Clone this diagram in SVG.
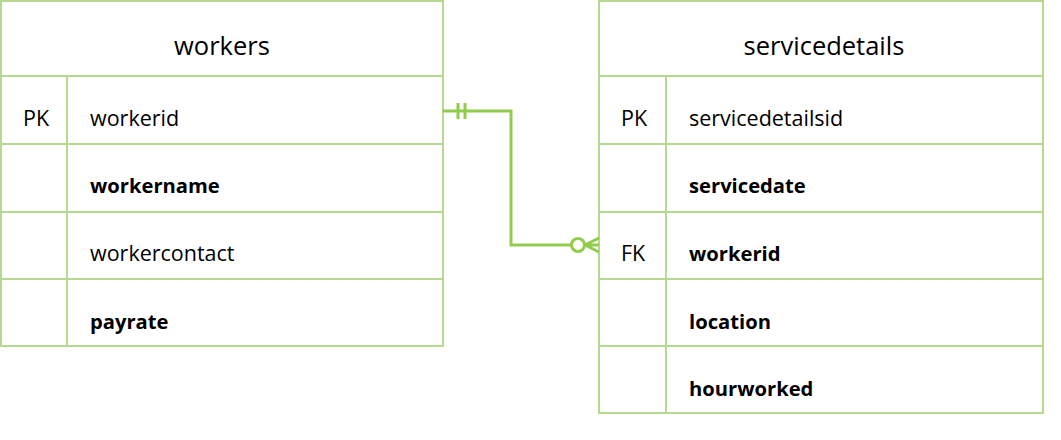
<svg xmlns="http://www.w3.org/2000/svg" width="1061" height="440" viewBox="0 0 1061 440">
<style>
.tb{fill:#fff;stroke:#b5d98f;stroke-width:2}
.ln{stroke:#b5d98f;stroke-width:2;fill:none}
.t{font-family:"Open Sans","Liberation Sans",sans-serif;font-size:21.5px;fill:#000}
.b{font-weight:bold;font-size:20.2px}
.h{font-family:"Open Sans","Liberation Sans",sans-serif;font-size:25.5px;fill:#000;text-anchor:middle}
.c{stroke:#92cc4c;stroke-width:3;fill:none}
</style>
<rect width="1061" height="440" fill="#fff"/>
<g id="workers">
<rect class="tb" x="1" y="1" width="442" height="345"/>
<path class="ln" d="M1 76H443M1 144H443M1 212H443M1 279H443M67 76V346"/>
<text class="h" x="222" y="55">workers</text>
<text class="t" x="23" y="126">PK</text>
<text class="t" x="90" y="126">workerid</text>
<text class="t b" x="90" y="193">workername</text>
<text class="t" x="90" y="261">workercontact</text>
<text class="t b" x="90" y="329">payrate</text>
</g>
<g id="servicedetails">
<rect class="tb" x="599" y="1" width="444" height="412"/>
<path class="ln" d="M599 76H1043M599 144H1043M599 212H1043M599 279H1043M599 346H1043M666 76V413"/>
<text class="h" x="824" y="55">servicedetails</text>
<text class="t" x="621" y="126">PK</text>
<text class="t" x="689" y="126">servicedetailsid</text>
<text class="t b" x="689" y="193">servicedate</text>
<text class="t" x="621" y="261">FK</text>
<text class="t b" x="689" y="261">workerid</text>
<text class="t b" x="689" y="329">location</text>
<text class="t b" x="689" y="396">hourworked</text>
</g>
<g id="connectors">
<path class="c" d="M443 111H511V245H571"/>
<path class="c" d="M458 103V119M465 103V119"/>
<circle class="c" cx="578" cy="245" r="6.5"/>
<path class="c" d="M585 245H599M585 245L599 238M585 245L599 252"/>
</g>
</svg>
